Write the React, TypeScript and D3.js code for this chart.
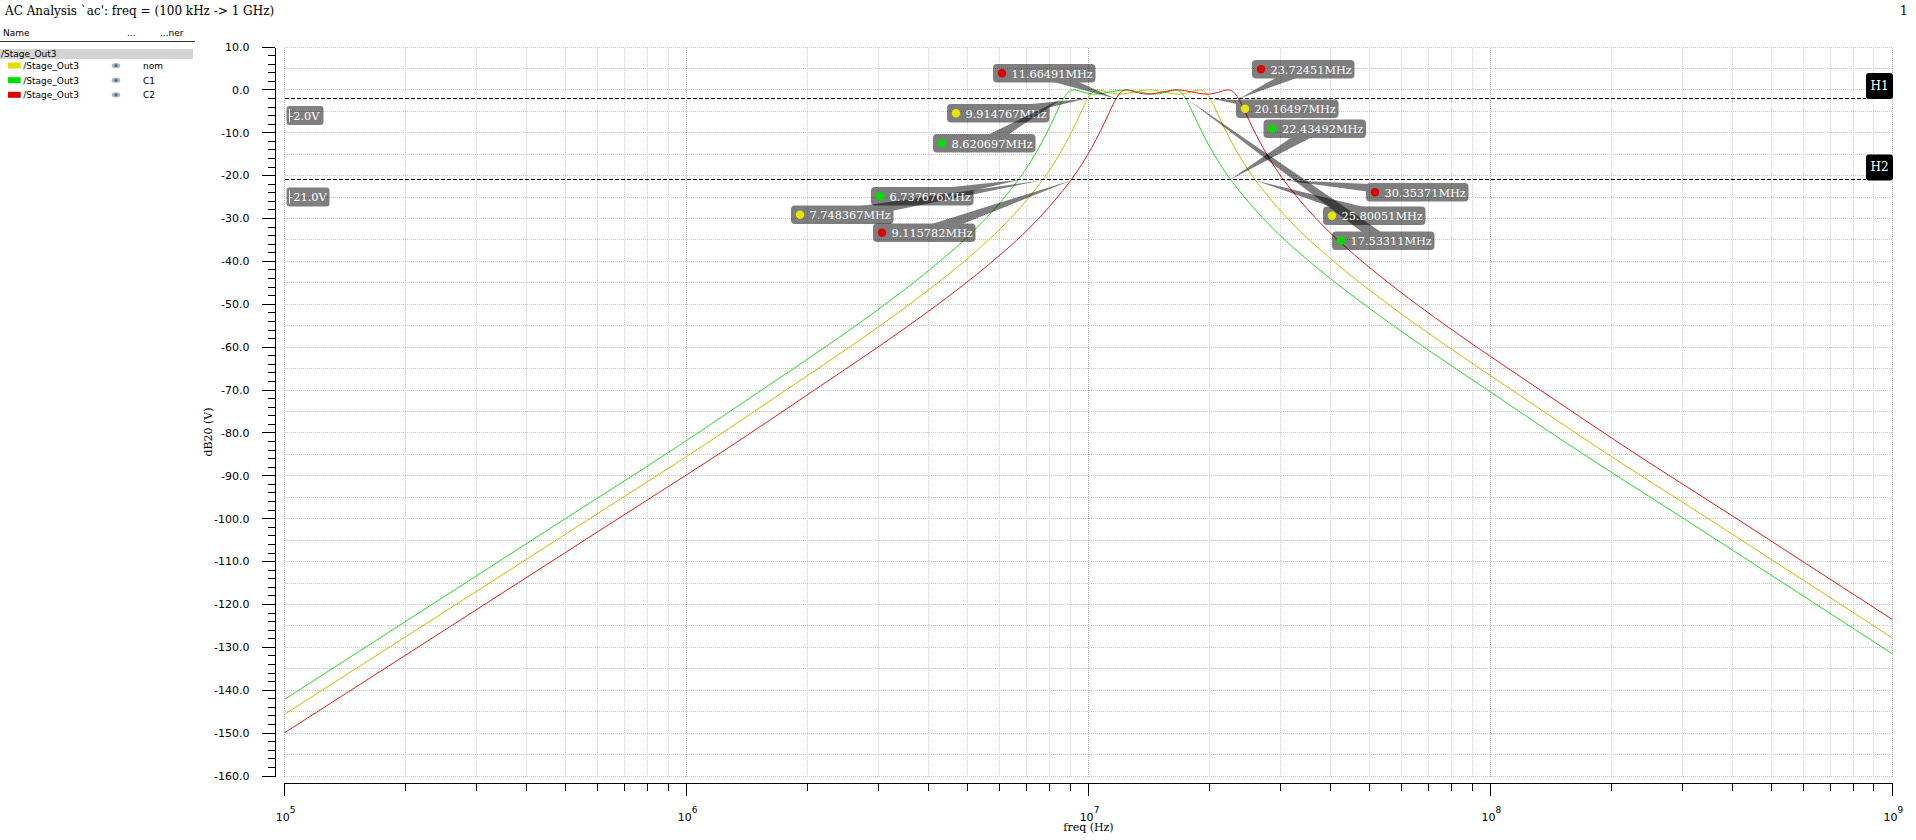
import React from 'react';
import * as d3 from 'd3';

const W = 1916;
const H = 840;

// ---------- data (frequencies in MHz, magnitudes in dB20) ----------
const nomFreqMHz = [0.1, 0.56289, 1.1231, 1.78, 2.5143, 3.5516, 4.4711, 5.2531, 6.0314, 6.7673, 7.4203, 7.9509, 8.4221, 8.9211, 9.3415, 9.5591, 9.7818, 9.9636, 10.13, 10.2901, 10.5808, 11.231, 11.9405, 13.0443, 14.139, 15.3257, 16.7423, 17.8, 18.8938, 19.4276, 19.7345, 20.0641, 20.4371, 20.9131, 21.4002, 22.4088, 23.7366, 25.1431, 26.9413, 29.5406, 33.1451, 38.0556, 44.7115, 56.2883, 79.509, 112.31, 178.0, 355.156, 1000];
const nomDb = [-145.6, -100.5, -82.4, -69.8, -60.3, -50.3, -43.1, -37.6, -32.4, -27.4, -22.9, -19.1, -15.4, -11.2, -7.4, -5.4, -3.4, -2.0, -1.0, -0.38, 0.0, -0.62, -1.0, -0.46, 0.0, -0.46, -1.0, -0.62, 0.0, -0.38, -1.0, -2.0, -3.4, -5.4, -7.4, -11.2, -15.4, -19.1, -22.9, -27.4, -32.4, -37.6, -43.1, -50.3, -60.3, -69.8, -82.4, -100.5, -127.8];

const c1FreqMHz = [0.1, 0.48944, 0.97657, 1.54772, 2.18628, 3.08818, 3.88779, 4.56778, 5.24446, 5.88437, 6.45212, 6.91353, 7.32316, 7.75715, 8.12265, 8.31186, 8.50549, 8.66359, 8.80829, 8.94747, 9.20024, 9.76565, 10.3826, 11.3423, 12.2942, 13.326, 14.5578, 15.4775, 16.4286, 16.8927, 17.1596, 17.4462, 17.7705, 18.1845, 18.608, 19.485, 20.6395, 21.8625, 23.4261, 25.6863, 28.8204, 33.0902, 38.8777, 48.9441, 69.1356, 97.6563, 154.775, 308.817, 1000];
const c1Db = [-142.1, -100.5, -82.4, -69.8, -60.3, -50.3, -43.1, -37.6, -32.4, -27.4, -22.9, -19.1, -15.4, -11.2, -7.4, -5.4, -3.4, -2.0, -1.0, -0.38, 0.0, -0.62, -1.0, -0.46, 0.0, -0.46, -1.0, -0.62, 0.0, -0.38, -1.0, -2.0, -3.4, -5.4, -7.4, -11.2, -15.4, -19.1, -22.9, -27.4, -32.4, -37.6, -43.1, -50.3, -60.3, -69.8, -82.4, -100.5, -131.5];

const c2FreqMHz = [0.1, 0.66228, 1.32142, 2.09426, 2.95831, 4.1787, 5.26068, 6.18079, 7.09642, 7.96229, 8.73053, 9.35486, 9.90916, 10.4964, 10.991, 11.247, 11.5091, 11.723, 11.9188, 12.1071, 12.4491, 13.2142, 14.0489, 15.3475, 16.6356, 18.0318, 19.6985, 20.9431, 22.23, 22.858, 23.2191, 23.6069, 24.0458, 24.6059, 25.179, 26.3657, 27.9278, 29.5827, 31.6985, 34.7568, 38.9977, 44.7752, 52.6064, 66.2275, 93.5485, 132.141, 209.431, 417.868, 1000];
const c2Db = [-149.9, -100.5, -82.4, -69.8, -60.3, -50.3, -43.1, -37.6, -32.4, -27.4, -22.9, -19.1, -15.4, -11.2, -7.4, -5.4, -3.4, -2.0, -1.0, -0.38, 0.0, -0.62, -1.0, -0.46, 0.0, -0.46, -1.0, -0.62, 0.0, -0.38, -1.0, -2.0, -3.4, -5.4, -7.4, -11.2, -15.4, -19.1, -22.9, -27.4, -32.4, -37.6, -43.1, -50.3, -60.3, -69.8, -82.4, -100.5, -123.5];

const seriesNames = ['nom', 'C1', 'C2'];
const signalName = '/Stage_Out3';

// horizontal markers
const hMarkerNames = ['H1', 'H2'];
const hMarkerDb = [-2.0, -21.0];
const hMarkerLabels = ['-2.0V', '-21.0V'];

// crossing markers
const markerFreqMHz = [11.66491, 23.72451, 9.914767, 20.16497, 8.620697, 17.53311, 9.115782, 30.35371, 7.748367, 25.80051, 6.737676, 22.43492];
const markerDb = [-2, -2, -2, -2, -2, -2, -21, -21, -21, -21, -21, -21];
const markerSeries = [2, 2, 0, 0, 1, 1, 2, 2, 0, 0, 1, 1];

// axis ticks
const xDecadeExp = [5, 6, 7, 8, 9];
const xMinorMult = [2, 3, 4, 5, 6, 7, 8, 9];

// ---------- layout / style ----------
const PL = 284.7, PR = 1892.3, PT = 47, PB = 776;
const Y_AXIS_X = 275;
const X_AXIS_Y = 783;
const swatchColors = ['#e0e000', '#00dd00', '#e00000'];
const lineColors = ['#c0c000', '#22dd22', '#e41a1a'];
const dotColors = ['#e6e600', '#00dd00', '#e00000'];
// label box top-left positions (px)
const markerBoxPos: [number, number][] = [
  [993, 64], [1252, 60], [947, 104], [1236, 99.5], [933, 134], [1332, 231.5],
  [873, 223.5], [1366, 183], [791, 205.5], [1323, 206.5], [871, 187], [1263.5, 119.5],
];
const BOX_W = 102.5, BOX_H = 18.5;

const SERIF = 'DejaVu Serif, serif';
const SANS = 'DejaVu Sans, sans-serif';

const px = (v: number) => Math.floor(v) + 0.5;

export default function App() {
  const x = d3.scaleLog().domain([1e5, 1e9]).range([PL, PR]);
  const y = d3.scaleLinear().domain([-160, 10]).range([PB, PT]);

  const series = [
    { f: nomFreqMHz, db: nomDb },
    { f: c1FreqMHz, db: c1Db },
    { f: c2FreqMHz, db: c2Db },
  ];
  const line = d3
    .line<[number, number]>()
    .x((d) => x(d[0] * 1e6))
    .y((d) => y(d[1]))
    .curve(d3.curveMonotoneX);

  const decades = xDecadeExp.map((e) => Math.pow(10, e));
  const minors: number[] = [];
  decades.slice(0, -1).forEach((d) => xMinorMult.forEach((m) => minors.push(d * m)));

  const yGrid = d3.range(-160, 10.01, 5);
  const yMajor = d3.range(-160, 10.01, 10);
  const yMinor = d3.range(-160, 10.01, 2);

  const legendRowsY = [65.5, 80.2, 94.8];
  const gl = px(PL), gr = px(PR), gt = px(PT), gb = px(PB);

  return (
    <svg width={W} height={H} style={{ position: 'absolute', left: 0, top: 0, background: '#fff' }}>
      <rect x={0} y={0} width={W} height={H} fill="#fff" />
      {/* title */}
      <text x={5} y={15} fontFamily={SERIF} fontSize={12} fill="#000">
        {"AC Analysis `ac': freq = (100 kHz -> 1 GHz)"}
      </text>
      <text x={1900} y={15} fontFamily={SERIF} fontSize={12} fill="#000">1</text>

      {/* legend */}
      <g fontFamily={SANS} fontSize={9} fill="#000">
        <text x={3} y={36}>Name</text>
        <text x={127} y={36}>...</text>
        <text x={160} y={36}>...ner</text>
        <line x1={0} x2={195} y1={41.5} y2={41.5} stroke="#333" strokeWidth={1} />
        <rect x={0} y={49} width={193} height={10} fill="#d4d4d4" />
        <text x={1} y={57}>{signalName}</text>
        {seriesNames.map((n, i) => (
          <g key={n}>
            <rect x={8} y={legendRowsY[i] - 3} width={12.7} height={6} fill={swatchColors[i]} />
            <text x={23.3} y={legendRowsY[i] + 3.3}>{signalName}</text>
            <ellipse cx={116} cy={legendRowsY[i]} rx={4.3} ry={2.6} fill="#a9b5c8" />
            <circle cx={116} cy={legendRowsY[i]} r={1.5} fill="#56657f" />
            <text x={143} y={legendRowsY[i] + 3.3}>{n}</text>
          </g>
        ))}
      </g>

      {/* grid */}
      <g shapeRendering="crispEdges">
        {yGrid.map((v) => (
          <line key={'hg' + v} x1={gl} x2={gr} y1={px(y(v))} y2={px(y(v))} stroke="#c8c8c8" strokeWidth={1} strokeDasharray="1 1" />
        ))}
        {minors.map((f) => (
          <line key={'vm' + f} x1={px(x(f))} x2={px(x(f))} y1={gt} y2={gb} stroke="#d0d0d0" strokeWidth={1} strokeDasharray="1 1" />
        ))}
        {decades.map((f) => (
          <line key={'vd' + f} x1={px(x(f))} x2={px(x(f))} y1={gt} y2={gb} stroke="#b0b0b0" strokeWidth={1} strokeDasharray="1 1" />
        ))}
      </g>

      {/* y axis */}
      <g shapeRendering="crispEdges">
        <line x1={px(Y_AXIS_X)} x2={px(Y_AXIS_X)} y1={px(y(10))} y2={px(y(-160))} stroke="#000" strokeWidth={1} />
        {yMinor.map((v) => (
          <line key={'ym' + v} x1={Y_AXIS_X - 7} x2={Y_AXIS_X} y1={px(y(v))} y2={px(y(v))} stroke="#000" strokeWidth={1} />
        ))}
        {yMajor.map((v) => (
          <line key={'yM' + v} x1={Y_AXIS_X - 13} x2={Y_AXIS_X} y1={px(y(v))} y2={px(y(v))} stroke="#000" strokeWidth={1} />
        ))}
      </g>
      {yMajor.map((v) => (
        <text key={'yl' + v} x={249.5} y={y(v)} dy="0.35em" textAnchor="end" fontFamily={SANS} fontSize={11} fill="#000">
          {v.toFixed(1)}
        </text>
      ))}
      <text transform={`translate(212,432) rotate(-90)`} textAnchor="middle" fontFamily={SERIF} fontSize={11} fill="#000">
        dB20 (V)
      </text>

      {/* x axis */}
      <g shapeRendering="crispEdges">
        <line x1={gl} x2={gr} y1={px(X_AXIS_Y)} y2={px(X_AXIS_Y)} stroke="#000" strokeWidth={1} />
        {minors.map((f) => (
          <line key={'xm' + f} x1={px(x(f))} x2={px(x(f))} y1={X_AXIS_Y} y2={X_AXIS_Y + 8} stroke="#000" strokeWidth={1} />
        ))}
        {decades.map((f) => (
          <line key={'xM' + f} x1={px(x(f))} x2={px(x(f))} y1={X_AXIS_Y} y2={X_AXIS_Y + 13} stroke="#000" strokeWidth={1} />
        ))}
      </g>
      {xDecadeExp.map((e, i) => (
        <text key={'xl' + e} x={x(decades[i]) + 1} y={821} textAnchor="middle" fontFamily={SANS} fontSize={11} fill="#000">
          10<tspan dy={-8} fontSize={9}>{e}</tspan>
        </text>
      ))}
      <text x={x(1e7)} y={831} textAnchor="middle" fontFamily={SERIF} fontSize={11} fill="#000">freq (Hz)</text>

      {/* curves */}
      <defs>
        <clipPath id="plotclip">
          <rect x={PL} y={PT - 2} width={PR - PL + 1} height={PB - PT + 4} />
        </clipPath>
      </defs>
      <g clipPath="url(#plotclip)">
        {series.map((s, i) => (
          <path
            key={'s' + i}
            d={line(s.f.map((f, j) => [f, s.db[j]] as [number, number])) || ''}
            fill="none"
            stroke={lineColors[i]}
            strokeWidth={1}
          />
        ))}
      </g>

      {/* horizontal marker lines */}
      {hMarkerDb.map((v, i) => (
        <g key={'hm' + i}>
          <line x1={PL} x2={1866} y1={px(y(v))} y2={px(y(v))} stroke="#000" strokeWidth={1} strokeDasharray="4 2" shapeRendering="crispEdges" />
          <rect x={286.5} y={y(v) + 7.5} width={i === 0 ? 37 : 43} height={19} rx={3} fill="#000" opacity={0.5} />
          <line x1={289.5} x2={289.5} y1={y(v) + 10.5} y2={y(v) + 23.5} stroke="#fff" strokeWidth={1} />
          <text x={289.5} y={y(v) + 21.5} fontFamily={SERIF} fontSize={11.3} fill="#fff">{hMarkerLabels[i]}</text>
          <rect x={1866} y={y(v) - 25.5} width={27} height={26} rx={3} fill="#000" />
          <text x={1879.5} y={y(v) - 8.5} textAnchor="middle" fontFamily={SERIF} fontSize={12} fill="#fff">
            {hMarkerNames[i]}
          </text>
        </g>
      ))}

      {/* crossing markers */}
      {markerFreqMHz.map((f, i) => {
        const tx = x(f * 1e6);
        const ty = y(markerDb[i]);
        const [bx, by] = markerBoxPos[i];
        const cx = bx + BOX_W / 2;
        const cy = by + BOX_H / 2;
        const dx = tx - cx, dy = ty - cy;
        const L = Math.hypot(dx, dy) || 1;
        const ox = (-dy / L) * 6, oy = (dx / L) * 6;
        const tri = `M${cx + ox},${cy + oy}L${tx},${ty}L${cx - ox},${cy - oy}Z`;
        return (
          <g key={'mk' + i}>
            <g opacity={0.5}>
              <path d={tri} fill="#000" />
              <rect x={bx} y={by} width={BOX_W} height={BOX_H} rx={4} fill="#000" />
            </g>
            <circle cx={bx + 9} cy={by + BOX_H / 2} r={4.2} fill={dotColors[markerSeries[i]]} />
            <text x={bx + 18.5} y={by + 13.6} fontFamily={SERIF} fontSize={11.3} fill="#fff">
              {f.toFixed(f >= 10 ? 5 : 6)}MHz
            </text>
          </g>
        );
      })}
    </svg>
  );
}
